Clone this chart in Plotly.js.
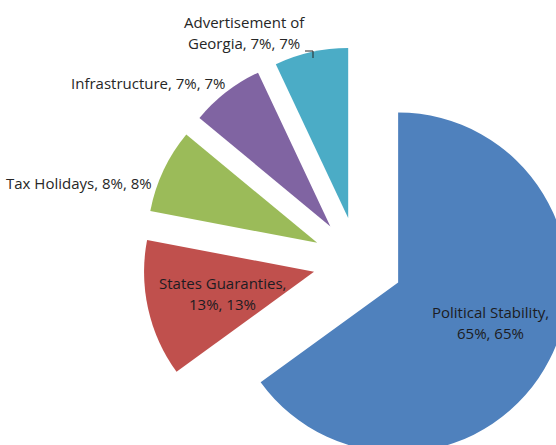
<!DOCTYPE html>
<html>
<head>
<meta charset="utf-8">
<script src="https://cdn.plot.ly/plotly-3.0.1.min.js"></script>
<style>
html,body{margin:0;padding:0;overflow:hidden;background:#fff;width:556px;height:445px;}
#chart{width:573px;height:477px;}
</style>
</head>
<body>
<div id="chart"></div>
<script>
// Data
const categories = ["Political Stability", "States Guaranties", "Tax Holidays", "Infrastructure", "Advertisement of Georgia"];
const values = [65, 13, 8, 7, 7];
const colors = ["#4F81BD", "#C0504D", "#9BBB59", "#8064A2", "#4BACC6"];
const labelLines = [
  ["Political Stability,", "65%, 65%"],
  ["States Guaranties,", "13%, 13%"],
  ["Tax Holidays, 8%, 8%"],
  ["Infrastructure, 7%, 7%"],
  ["Advertisement of", "Georgia, 7%, 7%"]
];

// layout geometry (pixels)
const L = 143, T = 47, S = 430;
function px(x){ return (x - L) / S; }
function py(y){ return 1 - (y - T) / S; }
const labelX = [490, 222, 79, 148, 244];
const labelY = [312, 283, 183, 83, 22];
const lineGap = 21;

const annotations = [];
categories.forEach((c, i) => {
  labelLines[i].forEach((ln, j) => {
    annotations.push({
      xref: 'paper', yref: 'paper',
      x: px(labelX[i]), y: py(labelY[i] + j * lineGap),
      xanchor: 'center', yanchor: 'middle',
      text: ln,
      showarrow: false,
      font: {family: '"Open Sans", sans-serif', size: 15, color: i < 2 ? '#1c1c22' : '#262626'}
    });
  });
});

const trace = {
  type: 'pie',
  labels: categories,
  values: values,
  sort: false,
  direction: 'clockwise',
  rotation: 0,
  pull: [0.265, 0.265, 0.265, 0.265, 0.265],
  marker: {colors: colors, line: {width: 0}},
  textinfo: 'none',
  hoverinfo: 'label+percent',
  showlegend: false
};

const layout = {
  width: 573, height: 477,
  margin: {l: L, t: T, r: 0, b: 0, autoexpand: false},
  paper_bgcolor: '#ffffff',
  showlegend: false,
  annotations: annotations,
  shapes: [{
    type: 'path', xref: 'paper', yref: 'paper',
    path: 'M ' + px(305) + ' ' + py(51) + ' L ' + px(313) + ' ' + py(51) + ' L ' + px(313) + ' ' + py(58),
    line: {color: '#262626', width: 1}
  }]
};

Plotly.newPlot('chart', [trace], layout, {displayModeBar: false, staticPlot: true});
</script>
</body>
</html>
